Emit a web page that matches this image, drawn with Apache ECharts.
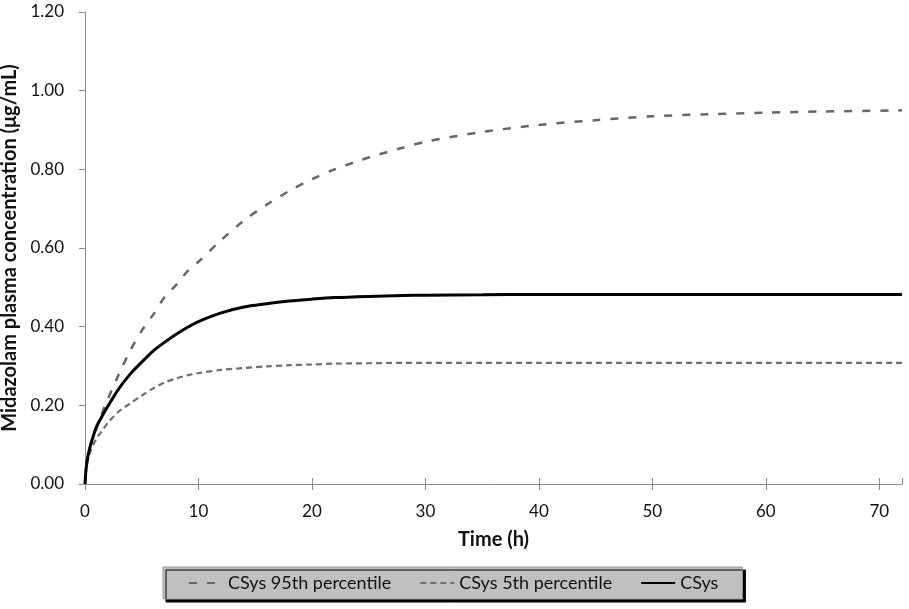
<!DOCTYPE html>
<html lang="en">
<head>
    <meta charset="UTF-8">
    <title>Midazolam plasma concentration</title>
    <script src="https://cdn.jsdelivr.net/npm/echarts@6/dist/echarts.min.js"></script>
    <style>
        html, body { margin: 0; padding: 0; background: #fff; }
        #container { width: 909px; height: 609px; }
    </style>
</head>
<body>
<div id="container"></div>
<script type="text/javascript">
    // time points (h) and concentrations (ug/mL)
    var timeHours = [0, 0.1, 0.25, 0.5, 1, 1.5, 2, 3, 4, 5, 6, 7, 8, 9, 10, 12, 14, 16, 18, 20, 22, 25, 28, 30, 35, 40, 45, 50, 55, 60, 65, 72];
    var csys95 = [0, 0.04, 0.07, 0.1, 0.14, 0.18, 0.215, 0.28, 0.34, 0.39, 0.43, 0.475, 0.505, 0.54, 0.565, 0.62, 0.67, 0.71, 0.745, 0.775, 0.8, 0.83, 0.855, 0.87, 0.895, 0.913, 0.925, 0.935, 0.94, 0.944, 0.947, 0.95];
    var csys5 = [0, 0.035, 0.06, 0.085, 0.115, 0.135, 0.155, 0.185, 0.205, 0.225, 0.243, 0.258, 0.268, 0.276, 0.282, 0.29, 0.295, 0.299, 0.302, 0.304, 0.306, 0.307, 0.308, 0.308, 0.308, 0.308, 0.308, 0.308, 0.308, 0.308, 0.308, 0.308];
    var csys = [0, 0.04, 0.07, 0.1, 0.145, 0.172, 0.197, 0.243, 0.28, 0.31, 0.338, 0.36, 0.38, 0.398, 0.413, 0.435, 0.45, 0.458, 0.465, 0.47, 0.474, 0.477, 0.479, 0.48, 0.481, 0.482, 0.482, 0.482, 0.482, 0.482, 0.482, 0.482];
    var seriesNames = ['CSys 95th percentile', 'CSys 5th percentile', 'CSys'];

    function pairs(ys) {
        return timeHours.map(function (t, i) { return [t, ys[i]]; });
    }

    var font = 'Lato';
    var myChart = echarts.init(document.getElementById('container'));

    var xCommon = {
        type: 'value',
        min: 0,
        max: 72,
        interval: 10,
        splitLine: {show: false}
    };

    myChart.setOption({
        animation: false,
        textStyle: {fontFamily: font},
        grid: {left: 85, top: 12, right: 7, bottom: 125, containLabel: false, outerBoundsMode: 'none'},
        legend: {
            data: seriesNames,
            left: 163,
            top: 567,
            padding: [7, 24, 7, 25],
            itemGap: 28,
            itemWidth: 34,
            itemHeight: 18,
            backgroundColor: '#c0c0c0',
            borderColor: '#9a9a9a',
            borderWidth: 1,
            shadowColor: '#000',
            shadowBlur: 0,
            shadowOffsetX: 3,
            shadowOffsetY: 3,
            itemStyle: {opacity: 0},
            textStyle: {fontFamily: font, fontSize: 18, color: '#111'}
        },
        xAxis: [
            Object.assign({}, xCommon, {
                name: 'Time (h)',
                nameLocation: 'middle',
                nameGap: 46,
                nameTextStyle: {fontFamily: font, fontSize: 20, fontWeight: 'bold', color: '#111'},
                axisLine: {lineStyle: {color: '#8c8c8c', width: 1}},
                axisTick: {length: 6, lineStyle: {color: '#8c8c8c'}},
                axisLabel: {
                    fontFamily: font, fontSize: 17, color: '#111', margin: 19,
                    showMaxLabel: false,
                    formatter: function (v) { return v % 10 === 0 ? String(v) : ''; }
                }
            }),
            Object.assign({}, xCommon, {
                position: 'bottom',
                axisLine: {show: false},
                axisTick: {inside: true, length: 6, lineStyle: {color: '#8c8c8c'}},
                axisLabel: {show: false}
            })
        ],
        yAxis: {
            type: 'value',
            min: 0,
            max: 1.2,
            interval: 0.2,
            name: 'Midazolam plasma concentration (\u03bcg/mL)',
            nameLocation: 'middle',
            nameGap: 57,
            nameTextStyle: {fontFamily: font, fontSize: 20, fontWeight: 'bold', color: '#111'},
            splitLine: {show: false},
            axisLine: {show: true, lineStyle: {color: '#8c8c8c', width: 1}},
            axisTick: {show: true, length: 6, lineStyle: {color: '#8c8c8c'}},
            axisLabel: {
                fontFamily: font, fontSize: 17, color: '#111', margin: 21,
                formatter: function (v) { return v.toFixed(2); }
            }
        },
        series: [
            {
                name: seriesNames[0],
                type: 'line',
                xAxisIndex: 0,
                data: pairs(csys95),
                smooth: 0.3,
                symbol: 'none',
                color: '#666',
                lineStyle: {color: '#666', width: 2.5, type: [8, 10]}
            },
            {
                name: seriesNames[1],
                type: 'line',
                xAxisIndex: 0,
                data: pairs(csys5),
                smooth: 0.3,
                symbol: 'none',
                color: '#6e6e6e',
                lineStyle: {color: '#6e6e6e', width: 2.2, type: [6, 4]}
            },
            {
                name: seriesNames[2],
                type: 'line',
                xAxisIndex: 0,
                data: pairs(csys),
                smooth: 0.3,
                symbol: 'none',
                color: '#000',
                lineStyle: {color: '#000', width: 3}
            }
        ]
    });
</script>
</body>
</html>
